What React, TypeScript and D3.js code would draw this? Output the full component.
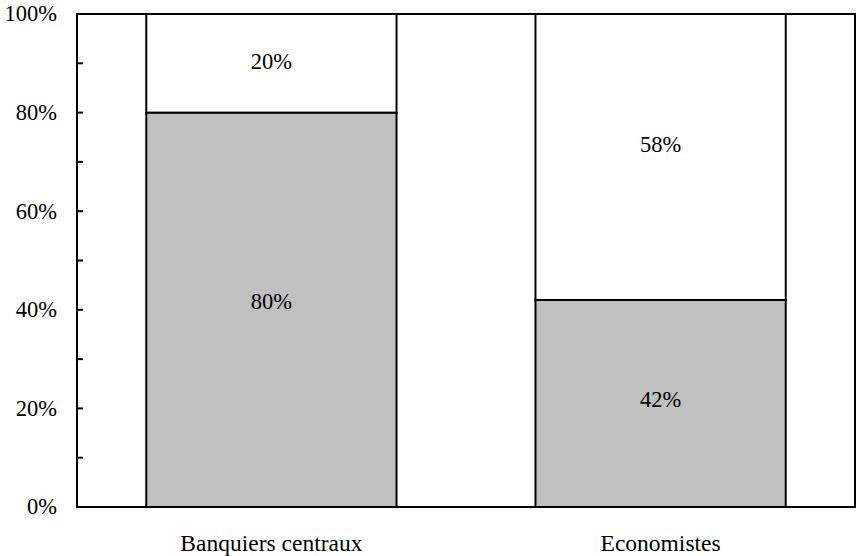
import React from "react";
import * as d3 from "d3";

const categories = ["Banquiers centraux", "Economistes"];
const bottomValues = [80, 42];
const topValues = [20, 58];
// label anchor positions (in % of axis)
const bottomLabelAt = [41.6, 21.7];
const topLabelAt = [90.3, 73.6];
const yTicks = [0, 20, 40, 60, 80, 100];
const minorTicks = [10, 30, 50, 70, 90];

const W = 857;
const H = 556;
const M = { left: 77, right: 2, top: 14, bottom: 49 };

export default function App() {
  const x = d3
    .scaleBand<string>()
    .domain(categories)
    .range([M.left, W - M.right])
    .paddingInner(0.357)
    .paddingOuter(0.178);
  const y = d3.scaleLinear().domain([0, 100]).range([H - M.bottom, M.top]);
  const font = '"Liberation Serif", "Times New Roman", serif';
  const fs = 22.5;
  return (
    <svg
      width={W}
      height={H}
      style={{ position: "absolute", left: 0, top: 0, background: "#fff", fontFamily: font }}
    >
      {categories.map((c, i) => {
        const x0 = x(c)!;
        const bw = x.bandwidth();
        const b = bottomValues[i];
        const t = topValues[i];
        return (
          <g key={c}>
            <rect
              x={x0}
              y={y(b)}
              width={bw}
              height={y(0) - y(b)}
              fill="#c0c0c0"
              stroke="#000"
              strokeWidth={2}
            />
            <rect
              x={x0}
              y={y(b + t)}
              width={bw}
              height={y(b) - y(b + t)}
              fill="#fff"
              stroke="#000"
              strokeWidth={2}
            />
            <text
              x={x0 + bw / 2}
              y={y(bottomLabelAt[i])}
              dy="0.33em"
              textAnchor="middle"
              fontSize={fs}
              style={{ fontFamily: font }}
            >
              {b}%
            </text>
            <text
              x={x0 + bw / 2}
              y={y(topLabelAt[i])}
              dy="0.33em"
              textAnchor="middle"
              fontSize={fs}
              style={{ fontFamily: font }}
            >
              {t}%
            </text>
            <text
              x={x0 + bw / 2}
              y={551}
              textAnchor="middle"
              fontSize={23.5}
              style={{ fontFamily: font }}
            >
              {c}
            </text>
          </g>
        );
      })}
      <rect
        x={M.left}
        y={M.top}
        width={W - M.right - M.left}
        height={H - M.bottom - M.top}
        fill="none"
        stroke="#000"
        strokeWidth={2}
      />
      {yTicks.concat(minorTicks).map((v) => (
        <line key={"t" + v} x1={M.left} x2={M.left + 6} y1={y(v)} y2={y(v)} stroke="#000" strokeWidth={2} />
      ))}
      {yTicks.map((v) => (
        <text
          key={"l" + v}
          x={57}
          y={y(v)}
          dy="0.33em"
          textAnchor="end"
          fontSize={fs}
          style={{ fontFamily: font }}
        >
          {v}%
        </text>
      ))}
    </svg>
  );
}
